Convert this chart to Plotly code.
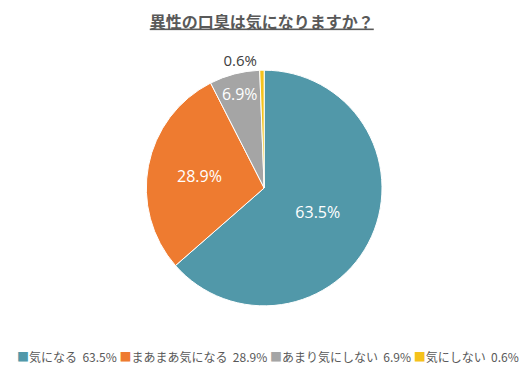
import plotly.graph_objects as go

categories = ["気になる", "まあまあ気になる", "あまり気にしない", "気にしない"]
values = [63.5, 28.9, 6.9, 0.6]
colors = ["#5198A9", "#EE7B30", "#A5A5A5", "#F5C21B"]
title = "異性の口臭は気になりますか？"

fig = go.Figure(go.Pie(
    labels=categories,
    values=values,
    sort=False,
    direction="clockwise",
    rotation=0,
    marker=dict(colors=colors, line=dict(color="white", width=1)),
    texttemplate="%{value:.1f}%",
    textposition=["inside", "inside", "inside", "outside"],
    insidetextorientation="horizontal",
    insidetextfont=dict(color="white", size=16, family="Open Sans"),
    outsidetextfont=dict(color="#404040", size=15, family="Open Sans"),
    domain=dict(x=[0.26, 0.703], y=[0.188, 0.831]),
    hole=0,
    showlegend=False,
))

# legend row built as a single text line from the data arrays
legend_parts = [
    f"<span style='color:{col}'>■</span>{cat}&nbsp;&nbsp;{val}%"
    for cat, val, col in zip(categories, values, colors)
]
legend_text = "&nbsp;".join(legend_parts)

fig.add_annotation(
    text=legend_text, x=0.488, xref="paper", y=1 - 348 / 367, yref="paper",
    xanchor="center", yanchor="middle", showarrow=False,
    font=dict(size=12, color="#595959", family="Noto Sans CJK JP"),
)

fig.update_layout(
    width=532, height=367,
    margin=dict(l=0, r=0, t=0, b=0),
    paper_bgcolor="white",
    font=dict(family="Noto Sans CJK JP", color="#595959"),
    title=dict(text=f"<b><u>{title}</u></b>", x=0.477, xanchor="center", y=0.962, yanchor="middle",
               font=dict(size=16, color="#595959", family="Noto Sans CJK JP")),
)

fig.write_html("out.html")
